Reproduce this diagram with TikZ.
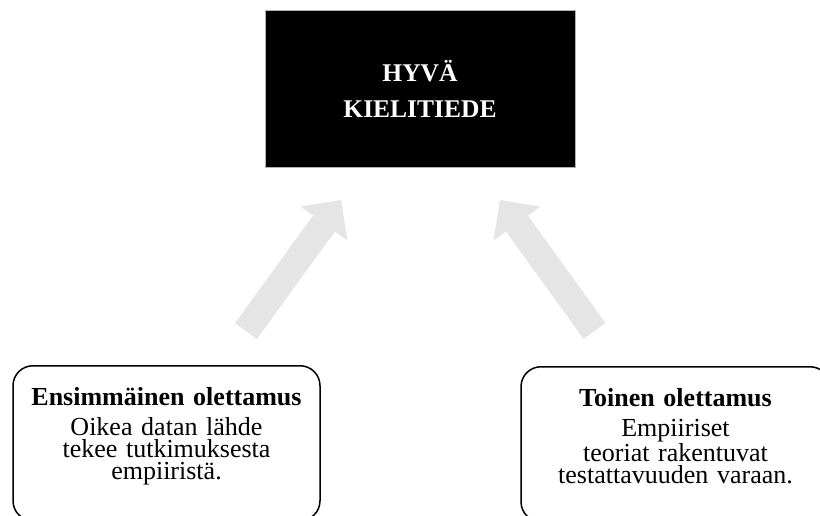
\documentclass[tikz,border=0pt]{standalone}
\usepackage{fontspec}
\setmainfont{Liberation Serif}
\usetikzlibrary{arrows.meta}
\setlength{\lineskiplimit}{-30pt}

\tikzset{
  premise/.style={draw, line width=1.5pt, rounded corners=20pt, anchor=north,
    inner sep=0pt, text width=#1, align=center, text height=40pt, text depth=115pt,
    font=\fontsize{26}{22}\selectfont},
  goalbox/.style={fill=black, draw=gray!60, line width=0.6pt, text=white,
    minimum width=310pt, minimum height=157pt, inner sep=0pt, align=center,
    font=\fontsize{25.5}{36}\selectfont\bfseries},
  bigarrow/.style={draw=gray!20, line width=27pt,
    -{Triangle[length=29pt, width=58pt, line width=0pt]}}
}
\newcommand{\premisetitle}[1]{{\bfseries\fontsize{26}{22}\selectfont #1}}

\begin{document}
\begin{tikzpicture}[x=1pt, y=-1pt]
\path[use as bounding box, clip] (0,0) rectangle (820,516);

\node[goalbox] (goal) at (420,88.5) {HYVÄ\\KIELITIEDE};

\node[premise=307pt] (first) at (166.5,365) {\premisetitle{Ensimmäinen olettamus}\\[8pt]
  Oikea datan lähde\\ tekee tutkimuksesta\\ empiiristä.};
\node[premise=309pt] (second) at (675.5,366) {\premisetitle{Toinen olettamus}\\[8pt]
  Empiiriset\\ teoriat rakentuvat\\ testattavuuden varaan.};

% big gray arrows towards the goal
\coordinate (ltail) at (246,331);
\coordinate (lhead) at (341,200);
\coordinate (rtail) at (594.5,331);
\coordinate (rhead) at (500,200);
\draw[bigarrow] (ltail) -- (lhead);
\draw[bigarrow] (rtail) -- (rhead);
\end{tikzpicture}
\end{document}
